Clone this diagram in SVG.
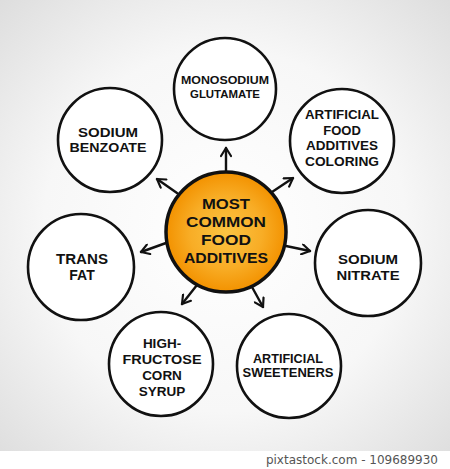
<svg xmlns="http://www.w3.org/2000/svg" width="450" height="469" viewBox="0 0 450 469">
<defs>
<radialGradient id="bg" cx="225" cy="230" r="330" gradientUnits="userSpaceOnUse">
<stop offset="0" stop-color="#ffffff"/>
<stop offset="0.55" stop-color="#f7f7f7"/>
<stop offset="1" stop-color="#dcdcdc"/>
</radialGradient>
<radialGradient id="og" cx="0.5" cy="0.5" r="0.5">
<stop offset="0" stop-color="#fbc443"/>
<stop offset="0.6" stop-color="#f8ad26"/>
<stop offset="1" stop-color="#f39200"/>
</radialGradient>
<marker id="ah" viewBox="0 0 12 12" refX="10" refY="6" markerWidth="12" markerHeight="12" markerUnits="userSpaceOnUse" orient="auto">
<path d="M2,1 L10,6 L2,11" fill="none" stroke="#111" stroke-width="2.2" stroke-linecap="round" stroke-linejoin="round"/>
</marker>
<style>
.n{fill:#fff;stroke:#111;stroke-width:2.6}
.c{fill:url(#og);stroke:#111;stroke-width:3.5}
.t{font-family:"Liberation Sans",Arial,sans-serif;font-weight:bold;fill:#111;text-anchor:middle}
.a{stroke:#111;stroke-width:2.4;fill:none;stroke-linecap:round;marker-end:url(#ah)}
</style>
</defs>
<rect x="0" y="0" width="450" height="451" fill="url(#bg)"/>
<rect x="0" y="451" width="450" height="18" fill="#ffffff"/>
<text x="438" y="464" font-family="'DejaVu Sans',sans-serif" font-size="12" fill="#555" text-anchor="end">pixtastock.com - 109689930</text>

<g id="connectors">
<line class="a" x1="226" y1="171" x2="226" y2="148"/>
<line class="a" x1="177" y1="193" x2="157" y2="179"/>
<line class="a" x1="272" y1="192" x2="293" y2="178"/>
<line class="a" x1="286" y1="246" x2="310" y2="251"/>
<line class="a" x1="166" y1="243" x2="141" y2="252"/>
<line class="a" x1="197" y1="285" x2="182" y2="304"/>
<line class="a" x1="252" y1="287" x2="263" y2="307"/>
</g>

<g id="center">
<circle class="c" cx="226" cy="232" r="60"/>
<text class="t" font-size="15.5" x="226" y="209" textLength="48" lengthAdjust="spacingAndGlyphs">MOST</text>
<text class="t" font-size="15.5" x="226" y="227" textLength="80" lengthAdjust="spacingAndGlyphs">COMMON</text>
<text class="t" font-size="15.5" x="226" y="245" textLength="50" lengthAdjust="spacingAndGlyphs">FOOD</text>
<text class="t" font-size="15.5" x="226" y="263" textLength="84" lengthAdjust="spacingAndGlyphs">ADDITIVES</text>
</g>

<g id="monosodium">
<circle class="n" cx="225" cy="89" r="51"/>
<text class="t" font-size="11.5" x="225" y="84" textLength="88" lengthAdjust="spacingAndGlyphs">MONOSODIUM</text>
<text class="t" font-size="11.5" x="225" y="98" textLength="70" lengthAdjust="spacingAndGlyphs">GLUTAMATE</text>
</g>

<g id="benzoate">
<circle class="n" cx="110" cy="140" r="52"/>
<text class="t" font-size="13" x="108" y="137" textLength="60" lengthAdjust="spacingAndGlyphs">SODIUM</text>
<text class="t" font-size="13" x="108" y="152" textLength="77" lengthAdjust="spacingAndGlyphs">BENZOATE</text>
</g>

<g id="coloring">
<circle class="n" cx="342" cy="141" r="52"/>
<text class="t" font-size="13" x="342" y="119" textLength="74" lengthAdjust="spacingAndGlyphs">ARTIFICIAL</text>
<text class="t" font-size="13" x="342" y="134.5">FOOD</text>
<text class="t" font-size="13" x="342" y="150" textLength="72" lengthAdjust="spacingAndGlyphs">ADDITIVES</text>
<text class="t" font-size="13" x="342" y="165.5" textLength="74" lengthAdjust="spacingAndGlyphs">COLORING</text>
</g>

<g id="transfat">
<circle class="n" cx="81" cy="267" r="53"/>
<text class="t" font-size="14" x="82" y="264" textLength="52" lengthAdjust="spacingAndGlyphs">TRANS</text>
<text class="t" font-size="14" x="82" y="280">FAT</text>
</g>

<g id="nitrate">
<circle class="n" cx="368" cy="263" r="53"/>
<text class="t" font-size="13.5" x="368" y="264" textLength="60" lengthAdjust="spacingAndGlyphs">SODIUM</text>
<text class="t" font-size="13.5" x="368" y="280" textLength="63" lengthAdjust="spacingAndGlyphs">NITRATE</text>
</g>

<g id="hfcs">
<circle class="n" cx="161" cy="364" r="52"/>
<text class="t" font-size="13.5" x="162" y="348">HIGH-</text>
<text class="t" font-size="13.5" x="162" y="364" textLength="79" lengthAdjust="spacingAndGlyphs">FRUCTOSE</text>
<text class="t" font-size="13.5" x="162" y="380">CORN</text>
<text class="t" font-size="13.5" x="162" y="396">SYRUP</text>
</g>

<g id="sweeteners">
<circle class="n" cx="289" cy="366" r="52"/>
<text class="t" font-size="12" x="288" y="363" textLength="70" lengthAdjust="spacingAndGlyphs">ARTIFICIAL</text>
<text class="t" font-size="12" x="288" y="377" textLength="91" lengthAdjust="spacingAndGlyphs">SWEETENERS</text>
</g>
</svg>
